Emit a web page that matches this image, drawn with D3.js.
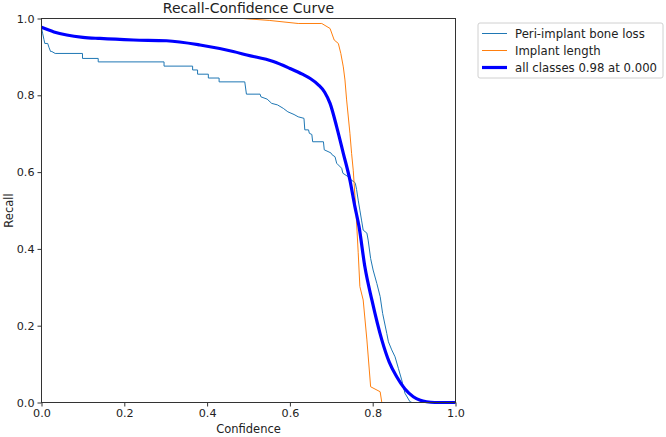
<!DOCTYPE html>
<html>
<head>
<meta charset="utf-8">
<script src="https://cdn.jsdelivr.net/npm/d3@7"></script>
<style>
  html, body { margin: 0; padding: 0; background: #fff; }
  svg { display: block; font-family: "DejaVu Sans", sans-serif; }
</style>
</head>
<body>
<svg id="chart" width="666" height="437"></svg>
<script>
// ---- data ----
const seriesNames = ["Peri-implant bone loss", "Implant length", "all classes 0.98 at 0.000"];
const xTicks = [0, 0.2, 0.4, 0.6, 0.8, 1.0];
const yTicks = [0, 0.2, 0.4, 0.6, 0.8, 1.0];

const periConf = [0.000,0.003,0.006,0.008,0.015,0.018,0.022,0.025,0.033,0.099,0.099,0.137,0.137,0.296,0.296,0.365,0.365,0.377,0.377,0.403,0.403,0.429,0.429,0.491,0.495,0.528,0.530,0.545,0.556,0.570,0.584,0.595,0.610,0.620,0.634,0.636,0.645,0.647,0.653,0.655,0.681,0.683,0.699,0.702,0.709,0.713,0.725,0.728,0.745,0.748,0.755,0.758,0.761,0.765,0.769,0.773,0.777,0.786,0.789,0.795,0.801,0.810,0.818,0.824,0.834,0.838,0.846,0.854,0.862,0.870,0.878,0.890,0.895,1.000];
const periRecall = [0.975,0.960,0.945,0.935,0.935,0.925,0.914,0.914,0.909,0.909,0.896,0.896,0.887,0.887,0.876,0.876,0.866,0.866,0.855,0.855,0.845,0.845,0.835,0.835,0.803,0.803,0.796,0.790,0.779,0.775,0.766,0.757,0.750,0.744,0.740,0.710,0.710,0.701,0.698,0.679,0.679,0.658,0.650,0.645,0.640,0.623,0.610,0.597,0.585,0.579,0.575,0.571,0.555,0.527,0.501,0.475,0.449,0.441,0.423,0.375,0.345,0.310,0.276,0.232,0.180,0.158,0.137,0.119,0.089,0.059,0.024,0.002,0.000,0.000];

const implConf = [0.000,0.487,0.550,0.620,0.677,0.697,0.707,0.717,0.723,0.729,0.733,0.737,0.745,0.749,0.753,0.757,0.761,0.765,0.769,0.777,0.786,0.795,0.818,0.822,1.000];
const implRecall = [1.000,1.000,0.995,0.987,0.987,0.974,0.944,0.935,0.909,0.874,0.840,0.788,0.701,0.649,0.605,0.540,0.470,0.390,0.302,0.267,0.163,0.041,0.028,0.000,0.000];

const allConf = [0.000,0.030,0.061,0.100,0.141,0.222,0.302,0.383,0.463,0.496,0.560,0.600,0.630,0.650,0.668,0.684,0.697,0.713,0.729,0.745,0.757,0.767,0.781,0.798,0.822,0.840,0.858,0.878,0.898,0.915,0.930,0.950,1.000];
const allRecall = [0.977,0.965,0.957,0.951,0.948,0.944,0.942,0.931,0.914,0.905,0.888,0.870,0.855,0.843,0.828,0.808,0.779,0.718,0.649,0.579,0.510,0.458,0.354,0.267,0.163,0.105,0.067,0.035,0.015,0.006,0.002,0.000,0.000];

// ---- layout ----
const svg = d3.select("#chart");
const L = 41.5, R = 455.5, T = 18.5, B = 402.5;
const x = d3.scaleLinear().domain([0, 1]).range([L, R]);
const y = d3.scaleLinear().domain([0, 1]).range([B, T]);

const zip = (a, b) => a.map((v, i) => [v, b[i]]);
const line = d3.line().x(d => x(d[0])).y(d => y(d[1]));
const smooth = d3.line().x(d => x(d[0])).y(d => y(d[1])).curve(d3.curveMonotoneX);

svg.append("defs").append("clipPath").attr("id", "clip")
  .append("rect").attr("x", L).attr("y", T - 2).attr("width", R - L + 2).attr("height", B - T + 4);

const g = svg.append("g").attr("clip-path", "url(#clip)");
g.append("path").datum(zip(periConf, periRecall))
  .attr("d", line).attr("fill", "none").attr("stroke", "#1f77b4").attr("stroke-width", 1);
g.append("path").datum(zip(implConf, implRecall))
  .attr("d", line).attr("fill", "none").attr("stroke", "#ff7f0e").attr("stroke-width", 1);
g.append("path").datum(zip(allConf, allRecall))
  .attr("d", smooth).attr("fill", "none").attr("stroke", "#0000ff").attr("stroke-width", 3.2);

// axes
const xAxis = svg.append("g").attr("transform", `translate(0,${B})`)
  .call(d3.axisBottom(x).tickValues(xTicks).tickFormat(d3.format(".1f")).tickSize(4).tickPadding(3));
const yAxis = svg.append("g").attr("transform", `translate(${L},0)`)
  .call(d3.axisLeft(y).tickValues(yTicks).tickFormat(d3.format(".1f")).tickSize(4).tickPadding(3));
[xAxis, yAxis].forEach(a => {
  a.select(".domain").remove();
  a.selectAll("line").attr("stroke", "#333");
  a.selectAll("text").attr("font-size", 11.2).attr("fill", "#222").attr("font-family", "DejaVu Sans");
});

// frame
svg.append("rect").attr("x", L).attr("y", T).attr("width", R - L).attr("height", B - T)
  .attr("fill", "none").attr("stroke", "#333").attr("stroke-width", 1);

// title and labels
svg.append("text").attr("x", (L + R) / 2).attr("y", 12.5).attr("text-anchor", "middle")
  .attr("font-size", 14).attr("fill", "#222").text("Recall-Confidence Curve");
svg.append("text").attr("x", (L + R) / 2).attr("y", 433).attr("text-anchor", "middle")
  .attr("font-size", 11.5).attr("fill", "#222").text("Confidence");
svg.append("text").attr("transform", `translate(12.5,${(T + B) / 2}) rotate(-90)`).attr("text-anchor", "middle")
  .attr("font-size", 11.5).attr("fill", "#222").text("Recall");

// legend
const lg = svg.append("g");
lg.append("rect").attr("x", 478).attr("y", 23).attr("width", 185).attr("height", 55).attr("rx", 2)
  .attr("fill", "#fff").attr("stroke", "#d0d0d0").attr("stroke-width", 1);
const legColors = ["#1f77b4", "#ff7f0e", "#0000ff"];
const legWidths = [1, 1, 3.2];
seriesNames.forEach((name, i) => {
  const yy = 33.5 + i * 17;
  lg.append("line").attr("x1", 482).attr("x2", 507).attr("y1", yy).attr("y2", yy)
    .attr("stroke", legColors[i]).attr("stroke-width", legWidths[i]);
  lg.append("text").attr("x", 515).attr("y", yy + 4).attr("font-size", 11.7).attr("fill", "#222").text(name);
});
</script>
</body>
</html>
